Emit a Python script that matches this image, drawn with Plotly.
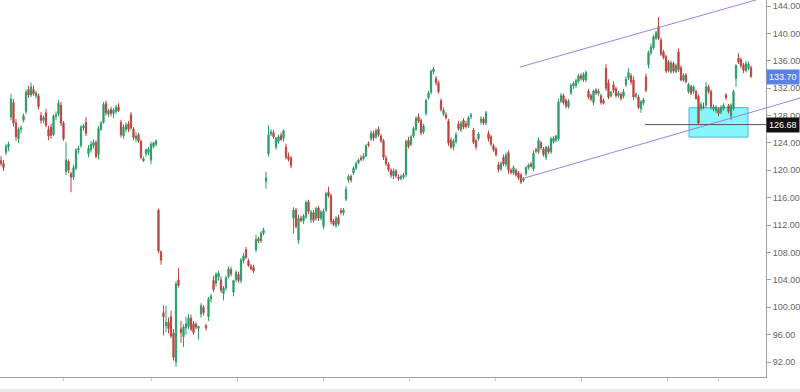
import plotly.graph_objects as go

# ---- data ----
open_ = [121.4,121.0,122.6,123.4,127.8,129.9,126.9,124.6,126.0,127.3,
         128.6,131.8,131.0,131.8,130.9,130.9,128.0,127.3,128.4,126.0,
         126.3,125.2,127.9,128.2,129.5,126.9,119.8,121.3,119.5,119.0,
         120.3,123.0,123.6,126.2,127.0,122.4,123.0,123.6,124.1,122.3,
         126.0,127.0,129.8,128.2,128.9,128.3,128.6,129.3,127.0,125.0,
         126.0,126.8,128.1,126.0,124.6,125.2,124.2,121.4,122.4,122.6,
         121.5,123.5,123.8,114.2,108.1,99.2,97.3,97.8,98.6,96.2,
         92.0,104.0,96.8,95.7,97.0,97.2,98.4,97.6,97.5,96.9,
         99.0,100.0,97.3,98.6,101.2,103.9,103.5,104.4,104.0,102.0,
         102.8,104.5,105.5,102.2,104.0,104.8,103.9,106.8,108.4,106.8,
         106.0,105.8,108.4,110.0,109.7,110.8,118.4,122.4,125.3,125.5,
         123.4,124.2,125.1,124.7,123.4,122.0,121.8,113.0,114.2,109.8,
         113.0,112.6,113.2,115.4,112.8,113.8,113.0,114.5,113.0,111.8,
         114.2,116.8,116.3,112.6,111.9,113.1,114.1,113.8,115.8,118.6,
         119.1,119.6,120.3,121.1,121.8,121.7,122.1,123.9,124.6,125.4,
         124.9,126.0,125.0,124.3,121.8,120.9,120.0,119.2,119.9,119.0,
         118.8,119.0,119.4,124.4,123.8,125.0,126.0,127.8,127.3,125.6,
         128.3,130.6,131.4,134.4,133.4,132.8,130.2,128.2,128.1,127.2,
         124.4,123.4,124.2,126.8,125.9,127.3,126.8,126.5,127.8,125.9,
         124.3,124.6,127.1,127.5,126.9,125.4,124.9,123.6,123.1,120.8,
         120.2,121.9,120.9,122.6,120.0,119.6,120.0,119.6,119.3,118.5,
         119.5,120.4,120.9,120.2,123.0,122.7,124.0,123.1,121.9,123.3,
         122.7,124.2,124.4,124.6,130.1,130.9,130.2,129.3,131.3,132.3,
         132.4,133.0,133.8,133.2,133.2,131.6,130.9,129.9,131.7,131.2,
         130.9,130.2,134.9,132.8,130.9,132.5,131.9,130.9,131.1,130.8,
         132.5,133.5,133.8,133.2,130.8,130.7,129.0,129.8,133.6,135.4,
         137.2,137.9,139.3,141.0,139.0,137.3,136.6,135.8,134.4,135.6,
         134.4,137.3,135.0,133.2,133.9,131.5,132.2,131.5,131.5,130.8,
         129.0,129.3,129.5,132.2,131.5,128.9,128.7,128.9,128.5,129.0,
         131.0,129.4,127.9,129.0,133.4,136.4,136.2,135.4,134.6,134.9,
         135.0]
high = [122.1,121.5,123.9,124.2,131.2,130.4,127.5,126.3,126.6,128.3,
        131.8,132.3,132.8,132.4,131.6,131.2,128.5,128.0,129.0,126.5,
        126.8,128.2,128.6,130.3,130.0,127.2,124.1,121.6,119.8,120.8,
        123.2,123.6,126.6,126.8,127.8,123.7,124.3,124.5,124.4,126.5,
        127.2,130.0,130.2,129.0,129.3,129.1,129.6,129.8,127.4,126.7,
        127.0,127.2,128.5,126.3,125.6,125.5,124.5,122.0,123.2,123.4,
        124.2,124.2,124.5,114.4,108.3,100.3,100.2,98.5,99.5,96.8,
        103.8,105.7,98.0,97.5,98.6,99.0,98.9,98.0,97.8,97.3,
        100.6,100.3,97.6,101.5,102.0,104.6,105.1,105.3,104.5,103.1,
        104.6,106.0,105.9,104.0,105.4,105.2,107.2,107.9,108.8,107.1,
        106.3,106.2,110.6,110.3,111.1,111.6,119.8,126.6,126.0,125.9,
        124.9,125.2,125.5,126.0,123.9,122.6,122.1,114.6,114.5,113.5,
        113.4,113.6,115.6,115.7,114.2,114.2,114.7,114.8,114.2,114.4,
        116.9,117.6,116.6,112.9,113.3,113.5,114.5,114.5,117.7,119.4,
        119.4,120.6,121.3,121.7,122.2,122.5,123.8,124.2,125.8,125.8,
        126.1,126.4,125.3,124.6,122.2,121.2,120.3,120.3,120.2,119.4,
        119.4,119.6,124.5,124.9,125.2,126.4,127.9,128.3,127.6,126.8,
        130.5,131.6,134.7,135.1,133.8,133.1,130.5,129.2,128.5,127.5,
        124.8,124.6,125.6,127.2,127.2,127.6,127.2,127.9,128.4,126.2,
        124.6,125.6,127.9,127.8,128.7,125.8,125.2,123.9,123.4,121.2,
        121.3,122.3,122.6,122.9,120.3,120.7,120.3,119.9,119.6,119.0,
        120.6,121.0,121.2,122.9,123.3,124.8,124.3,123.4,123.6,123.6,
        124.9,125.0,125.2,130.4,131.3,131.2,130.5,130.4,132.7,133.0,
        133.4,134.1,134.2,134.3,134.6,131.9,131.2,131.8,132.0,131.9,
        131.2,130.5,135.5,133.3,131.6,133.0,132.2,131.6,131.4,131.9,
        133.7,134.9,134.2,133.7,131.4,131.0,130.3,130.6,134.1,137.5,
        138.5,139.8,140.4,142.4,139.4,137.6,136.9,136.1,136.0,135.9,
        135.6,137.8,135.3,134.2,134.2,132.8,132.5,132.4,131.8,131.1,
        130.0,129.9,132.9,132.5,131.8,129.6,129.5,129.2,129.5,129.8,
        131.3,129.7,129.8,131.8,135.5,137.1,136.5,135.7,136.0,135.9,
        135.3]
low = [120.6,119.9,122.2,122.8,127.3,126.4,124.3,124.0,125.4,127.0,
       128.2,130.6,130.7,130.9,130.5,128.9,126.8,126.9,126.3,124.4,
       124.6,125.0,127.3,127.9,126.5,124.3,119.3,119.6,116.8,118.6,
       120.0,122.4,123.3,125.8,125.0,121.9,122.6,123.2,121.8,121.6,
       125.7,126.8,128.0,127.8,127.9,127.6,128.2,128.5,124.8,124.6,
       125.5,125.6,125.9,124.4,124.1,124.0,121.6,121.2,122.0,122.2,
       120.9,123.2,123.5,107.9,106.2,95.9,96.4,96.2,95.5,92.2,
       91.3,102.9,94.8,94.2,96.0,96.8,96.5,96.0,96.8,95.3,
       98.5,98.8,96.6,98.0,100.7,102.2,103.0,103.9,102.1,101.0,
       102.4,104.2,104.5,101.6,103.7,103.6,103.5,106.4,107.0,105.9,
       105.4,105.0,108.0,109.4,109.4,110.5,117.3,122.0,125.0,124.6,
       123.0,123.9,124.3,124.2,121.6,121.3,120.3,110.8,111.5,109.3,
       112.4,112.2,112.9,113.6,112.3,112.4,112.6,112.6,112.7,111.4,
       113.9,116.0,112.1,111.8,111.6,111.9,113.5,113.4,115.5,118.2,
       118.2,119.3,120.0,120.9,121.3,121.4,121.9,123.4,124.3,124.3,
       124.6,124.9,124.0,121.5,120.6,119.8,118.9,118.7,118.9,118.5,
       118.5,118.7,119.0,123.2,123.5,124.7,125.7,126.9,125.1,125.3,
       128.0,130.3,131.1,134.0,132.4,131.2,128.6,127.9,127.4,123.6,
       123.1,123.0,123.9,125.8,125.6,126.0,126.1,126.2,127.5,123.8,
       123.0,124.3,126.7,126.6,126.6,124.2,123.5,122.7,122.0,119.7,
       119.9,120.6,120.5,119.5,119.4,119.3,119.1,118.6,118.0,118.3,
       119.2,120.1,120.4,119.9,122.5,122.4,123.0,122.0,121.5,122.4,
       122.4,123.9,124.1,124.3,129.8,129.6,129.0,129.0,131.0,131.9,
       132.0,132.7,133.1,132.9,132.9,130.4,130.1,129.5,131.0,130.9,
       129.6,129.6,131.6,130.4,130.6,131.3,130.6,130.6,130.2,130.5,
       132.2,133.2,132.5,130.3,130.5,128.9,128.4,129.5,131.4,134.9,
       136.8,137.6,139.0,139.0,136.7,136.2,134.2,134.3,134.1,134.2,
       134.2,134.4,133.0,132.9,132.7,131.2,131.0,131.2,130.3,126.68,
       128.7,128.9,129.2,131.2,128.9,128.6,128.4,127.9,128.2,128.7,
       130.3,128.3,127.3,128.7,132.2,135.5,134.9,134.2,134.3,134.6,
       133.5]
close = [121.0,120.4,123.5,123.8,130.4,126.9,124.9,126.0,126.2,128.0,
         131.4,131.0,132.2,131.2,131.3,129.3,127.3,127.7,126.6,125.0,
         125.1,127.9,128.1,129.8,126.9,124.6,121.5,120.0,119.0,120.4,
         123.0,123.2,126.3,126.5,125.4,123.2,123.8,124.1,122.0,126.1,
         126.9,129.6,128.4,128.7,128.3,128.8,129.2,128.7,125.2,126.3,
         126.6,126.0,126.2,124.8,125.0,124.3,121.9,121.7,123.0,123.1,
         123.8,124.0,124.3,108.2,106.9,98.6,97.8,96.9,95.8,92.7,
         103.4,103.2,96.3,97.1,97.6,98.4,96.8,96.3,97.1,97.2,
         100.2,99.2,97.0,101.2,101.6,102.6,104.8,105.0,102.5,102.8,
         104.3,105.6,104.9,103.9,105.1,103.9,106.9,107.5,107.3,106.1,
         105.6,105.3,109.9,109.7,110.8,111.3,118.9,125.2,125.6,124.9,
         124.7,124.9,124.5,125.8,121.9,121.6,120.7,114.2,111.8,113.0,
         112.7,113.3,115.3,114.0,113.9,112.7,114.4,113.0,113.9,114.0,
         116.6,116.3,112.5,112.1,113.0,112.2,113.8,114.2,117.2,119.1,
         118.6,120.3,121.0,121.5,121.6,122.1,123.6,123.7,125.4,124.7,
         125.8,125.2,124.3,121.9,121.0,120.1,119.3,119.9,119.2,118.8,
         119.1,119.3,124.2,123.5,124.9,126.1,127.6,127.2,125.5,126.5,
         130.2,131.3,134.5,134.8,132.8,131.5,128.9,128.8,127.7,124.0,
         123.4,124.3,125.2,126.1,126.9,126.3,126.4,127.7,128.1,124.1,
         123.4,125.3,127.5,126.9,128.4,124.6,123.8,123.0,122.3,120.1,
         121.0,120.9,122.2,120.0,119.7,120.4,119.3,118.9,118.3,118.7,
         120.4,120.8,120.6,122.5,122.8,124.4,123.3,122.3,123.4,122.7,
         124.6,124.7,125.0,130.0,130.9,129.9,129.4,130.1,132.4,132.7,
         133.1,133.8,133.4,134.0,134.3,130.7,130.4,131.6,131.3,131.6,
         129.9,129.8,132.0,130.7,131.4,131.7,130.9,131.3,130.5,131.5,
         133.3,134.3,132.9,130.7,131.1,129.2,130.0,130.3,131.7,137.2,
         138.0,139.5,140.1,139.3,137.0,136.5,134.5,134.6,135.7,134.5,
         135.3,134.7,133.2,133.9,133.0,132.5,131.3,132.2,130.5,126.9,
         129.6,129.2,132.2,131.5,129.3,129.3,129.2,128.3,129.2,129.5,
         130.6,128.6,129.5,131.5,135.3,135.8,135.3,134.6,135.6,135.5,
         133.7]
days = list(range(len(close)))

# x-axis tick positions (bar index)
x_ticks = [24.8, 60.0, 94.4, 128.8, 163.2, 197.6, 232.0, 266.4, 286.8]
y_ticks = [92, 96, 100, 104, 108, 112, 116, 120, 124, 128, 132, 136, 140, 144]

# drawings: channel lines (bar index, price), zone and level
upper_channel = [(207.6, 135.09), (306.0, 145.31)]
lower_channel = [(208.0, 118.73), (319.6, 130.55)]
zone_x = [275.2, 298.8]
zone_y = [124.85, 129.15]
level_price = 126.68
level_start = 257.6

X_RANGE = [-0.4, 306.0]
Y_RANGE = [89.81, 144.88]

fig = go.Figure(go.Candlestick(
    x=days, open=open_, high=high, low=low, close=close,
    increasing=dict(line=dict(color='#2a9d68', width=1), fillcolor='#2a9d68'),
    decreasing=dict(line=dict(color='#b9453f', width=1), fillcolor='#b9453f'),
    whiskerwidth=0, hoverinfo='skip'))


def to_paper(ix, p):
    return ((ix - X_RANGE[0]) / (X_RANGE[1] - X_RANGE[0]),
            (p - Y_RANGE[0]) / (Y_RANGE[1] - Y_RANGE[0]))


shapes = []
# zone
shapes.append(dict(type='rect', xref='x', yref='y', x0=zone_x[0], x1=zone_x[1],
                   y0=zone_y[0], y1=zone_y[1], fillcolor='#85f6f9',
                   line=dict(color='#4fb3dc', width=1), layer='below'))
# channel lines (may run into the right margin)
for seg in (upper_channel, lower_channel):
    (ax, ay), (bx, by) = to_paper(*seg[0]), to_paper(*seg[1])
    shapes.append(dict(type='line', xref='paper', yref='paper', x0=ax, y0=ay,
                       x1=bx, y1=by, line=dict(color='#a77ee0', width=1)))
# level line
shapes.append(dict(type='line', xref='x', yref='y', x0=level_start, x1=X_RANGE[1],
                   y0=level_price, y1=level_price, line=dict(color='#555555', width=1)))
# bottom grey band
shapes.append(dict(type='rect', xref='paper', yref='paper', x0=-0.01, x1=1.06,
                   y0=-0.0318, y1=-0.05, fillcolor='#e9e9e9', line=dict(width=0),
                   layer='below'))

fig.update_layout(
    width=800, height=392,
    margin=dict(l=0, r=34, t=0, b=15),
    paper_bgcolor='white', plot_bgcolor='white',
    showlegend=False,
    shapes=shapes,
    font=dict(family='Liberation Sans, Arial, sans-serif'),
    xaxis=dict(range=X_RANGE, rangeslider=dict(visible=False), showgrid=False,
               zeroline=False, showline=True, linecolor='#a0a0a0', linewidth=1,
               ticks='outside', ticklen=3, tickcolor='#c8c8c8',
               tickvals=x_ticks, showticklabels=False),
    yaxis=dict(range=Y_RANGE, side='right', showgrid=False, zeroline=False,
               showline=True, linecolor='#a0a0a0', linewidth=1,
               ticks='outside', ticklen=4, tickcolor='#a0a0a0',
               tickvals=y_ticks, ticktext=[f'{v:.2f}' for v in y_ticks],
               tickfont=dict(size=9, color='#666666')),
)

fig.add_annotation(x=1, xref='paper', xanchor='left', y=close[-1], yref='y',
                   text=f'{close[-1]:.2f}', showarrow=False, bgcolor='#5a82e6',
                   font=dict(color='white', size=9), borderpad=2)
fig.add_annotation(x=1, xref='paper', xanchor='left', y=level_price, yref='y',
                   text=f'{level_price:.2f}', showarrow=False, bgcolor='#111111',
                   font=dict(color='white', size=9), borderpad=2)

fig.write_html('out.html')
